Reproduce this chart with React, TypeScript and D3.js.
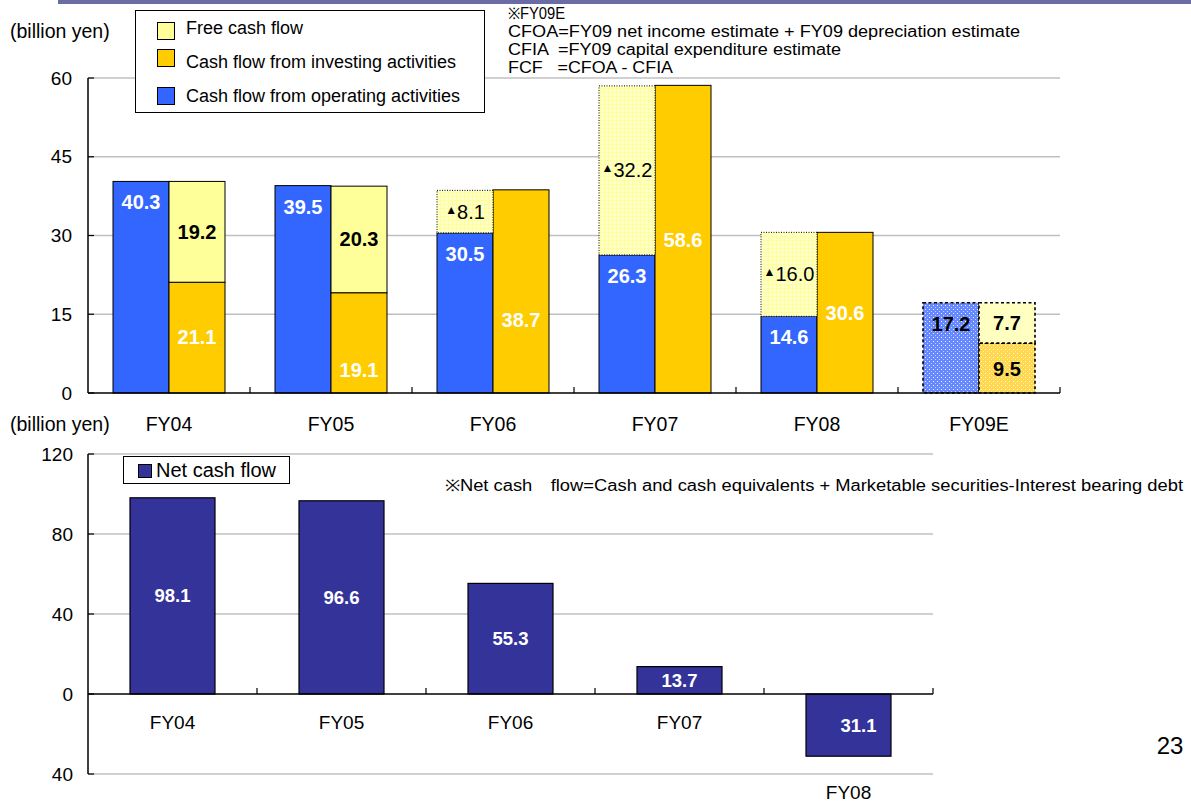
import React from "react";
import * as d3 from "d3";

// ---------- data ----------
const categories = ["FY04", "FY05", "FY06", "FY07", "FY08", "FY09E"];
const operatingCF = [40.3, 39.5, 30.5, 26.3, 14.6, 17.2];
const investingCF = [21.1, 19.1, 38.7, 58.6, 30.6, 9.5];
const freeCF = [19.2, 20.3, -8.1, -32.2, -16.0, 7.7];
// where (in billion yen) the investing-CF value label sits
const investingLabelAt = [10.6, 4.4, 13.9, 29.1, 15.2, 4.6];
const topTicks = [0, 15, 30, 45, 60];

const netCategories = ["FY04", "FY05", "FY06", "FY07", "FY08"];
const netCashFlow = [98.1, 96.6, 55.3, 13.7, -31.1];
const bottomTicks = [-40, 0, 40, 80, 120];

const legendTop = [
  { label: "Free cash flow", color: "#FFFF99" },
  { label: "Cash flow from investing activities", color: "#FFCC00" },
  { label: "Cash flow from operating activities", color: "#3366FF" },
];

const noteLines = [
  { text: "※FY09E", len: 57 },
  { text: "CFOA=FY09 net income estimate + FY09 depreciation estimate", len: 512 },
  { text: "CFIA  =FY09 capital expenditure estimate", len: 333 },
  { text: "FCF   =CFOA - CFIA", len: 165 },
];

const FONT = "Liberation Sans, Arial, Helvetica, sans-serif";
const BLUE = "#3366FF";
const ORANGE = "#FFCC00";
const LYELLOW = "#FFFF99";
const NAVY = "#333399";

export default function App() {
  // top chart scales
  const yTop = d3.scaleLinear().domain([0, 60]).range([393, 78]);
  const xTop = d3.scaleBand<string>().domain(categories).range([88, 1060]);
  const inner = d3.scaleBand<string>().domain(["op", "inv"]).range([25, 137]);
  const bw = inner.bandwidth();

  // bottom chart scales
  const yBot = d3.scaleLinear().domain([-40, 120]).range([774, 454]);
  const xBot = d3
    .scaleBand<string>()
    .domain(netCategories)
    .range([88, 933])
    .paddingInner(0.497)
    .paddingOuter(0.2485);

  const topBars: React.ReactNode[] = [];
  const topLabels: React.ReactNode[] = [];

  categories.forEach((c, i) => {
    const est = c.endsWith("E");
    const x0 = xTop(c)! + inner("op")!;
    const x1 = xTop(c)! + inner("inv")!;
    const op = operatingCF[i];
    const inv = investingCF[i];
    const f = freeCF[i];
    const solidStroke = { stroke: "#000", strokeWidth: 1 };
    const dashStroke = { stroke: "#000", strokeWidth: 1.6, strokeDasharray: "3,2.5" };

    topBars.push(
      <rect
        key={"op" + c}
        x={x0}
        y={yTop(op)}
        width={bw}
        height={yTop(0) - yTop(op)}
        fill={est ? "url(#dotBlue)" : BLUE}
        {...(est ? dashStroke : solidStroke)}
      />
    );
    topBars.push(
      <rect
        key={"inv" + c}
        x={x1}
        y={yTop(inv)}
        width={bw}
        height={yTop(0) - yTop(inv)}
        fill={est ? "url(#dotOrange)" : ORANGE}
        {...(est ? dashStroke : solidStroke)}
      />
    );
    if (f >= 0) {
      topBars.push(
        <rect
          key={"fcf" + c}
          x={x1}
          y={yTop(inv + f)}
          width={bw}
          height={yTop(inv) - yTop(inv + f)}
          fill={est ? "url(#dotYellow)" : LYELLOW}
          {...(est ? dashStroke : solidStroke)}
        />
      );
      topLabels.push(
        <text
          key={"lf" + c}
          x={x1 + bw / 2}
          y={yTop(inv + f / 2)}
          textAnchor="middle"
          dominantBaseline="central"
          fontWeight="bold"
          fontSize={20}
          fill="#000"
        >
          {f.toFixed(1)}
        </text>
      );
    } else {
      const top = op - f;
      topBars.push(
        <rect
          key={"fcf" + c}
          x={x0}
          y={yTop(top)}
          width={bw}
          height={yTop(op) - yTop(top)}
          fill="url(#gridYellow)"
          stroke="#000"
          strokeWidth={1}
          strokeDasharray="1,1.5"
        />
      );
      topLabels.push(
        <text
          key={"lf" + c}
          x={x0 + bw / 2}
          y={yTop(op - f / 2)}
          textAnchor="middle"
          dominantBaseline="central"
          fontSize={20}
          fill="#000"
        >
          <tspan fontSize={12} dy={-2}>▲</tspan>
          <tspan dy={2}>{Math.abs(f).toFixed(1)}</tspan>
        </text>
      );
    }
    topLabels.push(
      <text
        key={"lo" + c}
        x={x0 + bw / 2}
        y={yTop(op) + 21}
        textAnchor="middle"
        dominantBaseline="central"
        fontWeight="bold"
        fontSize={20}
        fill={est ? "#000" : "#fff"}
      >
        {op.toFixed(1)}
      </text>
    );
    topLabels.push(
      <text
        key={"li" + c}
        x={x1 + bw / 2}
        y={yTop(investingLabelAt[i])}
        textAnchor="middle"
        dominantBaseline="central"
        fontWeight="bold"
        fontSize={20}
        fill={est ? "#000" : "#fff"}
      >
        {inv.toFixed(1)}
      </text>
    );
  });

  return (
    <svg
      width={1191}
      height={803}
      style={{ position: "absolute", left: 0, top: 0, background: "#fff" }}
      fontFamily={FONT}
    >
      <defs>
        <pattern id="gridYellow" width={4} height={4} patternUnits="userSpaceOnUse">
          <rect width={4} height={4} fill="#FFFFCC" />
          <path d="M0 0.5H4M0.5 0V4" stroke="#FFFF99" strokeWidth={1} />
        </pattern>
        <pattern id="dotBlue" width={4} height={4} patternUnits="userSpaceOnUse">
          <rect width={4} height={4} fill="#6688FF" />
          <rect x={1} y={1} width={1} height={1} fill="#fff" opacity={0.9} />
          <rect x={3} y={3} width={1} height={1} fill="#C8D4FF" opacity={0.9} />
        </pattern>
        <pattern id="dotOrange" width={4} height={4} patternUnits="userSpaceOnUse">
          <rect width={4} height={4} fill="#FFD84D" />
          <rect x={1} y={1} width={1} height={1} fill="#fff" opacity={0.9} />
          <rect x={3} y={3} width={1} height={1} fill="#FFF0C0" opacity={0.9} />
        </pattern>
        <pattern id="dotYellow" width={4} height={4} patternUnits="userSpaceOnUse">
          <rect width={4} height={4} fill="#FFFFB8" />
          <rect x={1} y={1} width={1} height={1} fill="#fff" />
          <rect x={3} y={3} width={1} height={1} fill="#fff" />
        </pattern>
      </defs>

      {/* header band */}
      <rect x={58} y={0} width={1133} height={4} fill="#6B6BA6" />

      {/* ---------- TOP CHART ---------- */}
      <text x={10} y={31} fontSize={19.5} dominantBaseline="central">(billion yen)</text>

      {topTicks.map((t) => (
        <g key={"tg" + t}>
          {t > 0 && (
            <line x1={88} x2={1060} y1={yTop(t)} y2={yTop(t)} stroke="#C0C0C0" strokeWidth={1.5} />
          )}
          <line x1={88} x2={94} y1={yTop(t)} y2={yTop(t)} stroke="#000" strokeWidth={1.2} />
          <text x={72} y={yTop(t)} fontSize={19} textAnchor="end" dominantBaseline="central">
            {t}
          </text>
        </g>
      ))}

      {topBars}

      <line x1={88} x2={88} y1={yTop(60)} y2={yTop(0)} stroke="#000" strokeWidth={1.5} />
      <line x1={88} x2={1060} y1={yTop(0)} y2={yTop(0)} stroke="#000" strokeWidth={1.5} />
      {categories.map((c) => (
        <line
          key={"xt" + c}
          x1={xTop(c)! + xTop.bandwidth()}
          x2={xTop(c)! + xTop.bandwidth()}
          y1={yTop(0)}
          y2={yTop(0) - 6}
          stroke="#000"
          strokeWidth={1.2}
        />
      ))}
      {categories.map((c) => (
        <text
          key={"xl" + c}
          x={xTop(c)! + xTop.bandwidth() / 2}
          y={424}
          fontSize={19.5}
          textAnchor="middle"
          dominantBaseline="central"
        >
          {c}
        </text>
      ))}

      {topLabels}

      {/* top legend */}
      <rect x={135.5} y={10.5} width={349} height={102} fill="#fff" stroke="#000" strokeWidth={1} />
      {legendTop.map((l, i) => (
        <g key={"lg" + l.label}>
          <rect x={157.5} y={[22, 49, 87][i] + 0.5} width={17} height={17} fill={l.color} stroke="#000" strokeWidth={1} />
          <text x={186} y={[28, 62, 96][i]} fontSize={18} dominantBaseline="central">
            {l.label}
          </text>
        </g>
      ))}

      {/* notes */}
      {noteLines.map((n, i) => (
        <text
          key={"note" + i}
          x={508}
          y={13 + i * 18}
          fontSize={16}
          dominantBaseline="central"
          textLength={n.len}
          lengthAdjust="spacingAndGlyphs"
          style={{ whiteSpace: "pre" }}
        >
          {n.text}
        </text>
      ))}

      {/* ---------- BOTTOM CHART ---------- */}
      <text x={10} y={424} fontSize={19.5} dominantBaseline="central">(billion yen)</text>

      {bottomTicks.map((t) => (
        <g key={"bg" + t}>
          {t !== 0 && (
            <line x1={88} x2={933} y1={yBot(t)} y2={yBot(t)} stroke="#C0C0C0" strokeWidth={1.5} />
          )}
          <line x1={88} x2={94} y1={yBot(t)} y2={yBot(t)} stroke="#000" strokeWidth={1.2} />
          <text x={73} y={yBot(t)} fontSize={19} textAnchor="end" dominantBaseline="central">
            {Math.abs(t)}
          </text>
        </g>
      ))}

      {netCategories.map((c, i) => {
        const v = netCashFlow[i];
        const y0 = Math.min(yBot(v), yBot(0));
        const h = Math.abs(yBot(v) - yBot(0));
        const cx = xBot(c)! + xBot.bandwidth() / 2 + (v < 0 ? 10 : 0);
        return (
          <g key={"nb" + c}>
            <rect x={xBot(c)!} y={y0} width={xBot.bandwidth()} height={h} fill={NAVY} stroke="#000" strokeWidth={1.2} />
            <text
              x={cx}
              y={y0 + h / 2}
              fill="#fff"
              fontWeight="bold"
              fontSize={18.5}
              textAnchor="middle"
              dominantBaseline="central"
            >
              {Math.abs(v).toFixed(1)}
            </text>
          </g>
        );
      })}

      <line x1={88} x2={88} y1={yBot(120)} y2={yBot(-40)} stroke="#000" strokeWidth={1.5} />
      <line x1={88} x2={933} y1={yBot(0)} y2={yBot(0)} stroke="#000" strokeWidth={1.5} />
      {netCategories.map((c) => {
        const step = xBot.step();
        const right = xBot(c)! + xBot.bandwidth() / 2 + step / 2;
        return (
          <line key={"bt" + c} x1={right} x2={right} y1={yBot(0)} y2={yBot(0) - 6} stroke="#000" strokeWidth={1.2} />
        );
      })}
      {netCategories.map((c, i) => (
        <text
          key={"bl" + c}
          x={xBot(c)! + xBot.bandwidth() / 2}
          y={netCashFlow[i] < 0 ? yBot(-40) + 18 : yBot(0) + 28}
          fontSize={19}
          textAnchor="middle"
          dominantBaseline="central"
        >
          {c}
        </text>
      ))}

      {/* bottom legend */}
      <rect x={123.5} y={456.5} width={166} height={27} fill="#fff" stroke="#000" strokeWidth={1} />
      <rect x={138.5} y={464.5} width={13} height={13} fill={NAVY} stroke="#000" strokeWidth={1} />
      <text x={156} y={470} fontSize={20} dominantBaseline="central">Net cash flow</text>

      <text
        x={445}
        y={485}
        fontSize={16}
        dominantBaseline="central"
        textLength={738}
        lengthAdjust="spacingAndGlyphs"
      >
        ※Net cash　flow=Cash and cash equivalents + Marketable securities-Interest bearing debt
      </text>

      <text x={1170} y={745} fontSize={24} textAnchor="middle" dominantBaseline="central">23</text>
    </svg>
  );
}
